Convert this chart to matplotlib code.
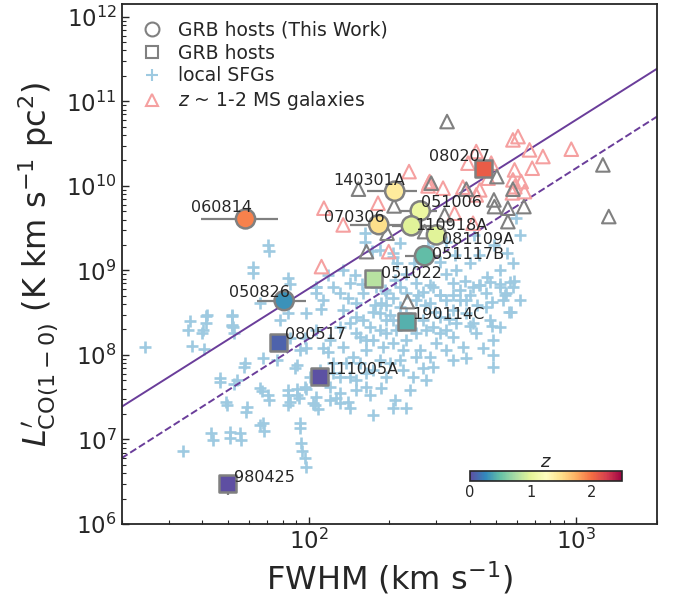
import numpy as np
import matplotlib
matplotlib.use("Agg")
import matplotlib.pyplot as plt
from matplotlib.lines import Line2D
from matplotlib.colors import Normalize
from matplotlib.cm import ScalarMappable

# GRB hosts, this work (circles)
tw_names = ['060814', '140301A', '070306', '050826', '051006',
            '110918A', '081109A', '051117B']
tw_fwhm = [58.1, 209.7, 182.7, 81.0, 261.0, 242.0, 300.0, 271.0]
tw_fwhm_lo = [39.5, 165.0, 142.5, 64.3, 220.0, 205.0, 285.0, 230.0]
tw_fwhm_hi = [76.9, 254.0, 238.0, 97.5, 302.0, 290.0, 315.0, 312.0]
tw_lco = [4.07e9, 8.65e9, 3.48e9, 4.39e8, 5.06e9, 3.37e9, 2.63e9, 1.49e9]
tw_z = [1.92, 1.416, 1.497, 0.296, 1.059, 0.984, 0.979, 0.481]

# GRB hosts from literature (squares)
lit_names = ['080207', '051022', '080517', '111005A', '190114C', '980425']
lit_fwhm = [448.0, 175.4, 77.2, 110.0, 232.0, 49.9]
lit_lco = [1.62e10, 8.09e8, 1.41e8, 5.53e7, 2.48e8, 3.05e6]
lit_lco_lo = [0, 0, 0, 0, 0, 0.85e6]
lit_z = [2.086, 0.806, 0.089, 0.013, 0.425, 0.0085]

# z ~ 1-2 main-sequence galaxies (log10 FWHM, log10 L')
ms_logfwhm = [2.375, 2.449, 2.057, 2.129, 2.259, 2.299, 2.048, 2.626, 2.595,
              2.682, 2.763, 2.782, 2.825, 2.875, 2.981, 2.835, 2.769, 2.763,
              2.794, 2.806, 2.452, 2.446, 2.502, 2.576, 2.639, 2.626, 2.670,
              2.545, 2.614, 2.761, 2.770]
ms_loglco = [10.169, 10.032, 9.736, 9.538, 9.795, 9.222, 9.045, 10.406, 10.269,
             10.269, 10.544, 10.583, 10.426, 10.347, 10.434, 10.209, 10.189,
             10.071, 10.051, 9.932, 10.051, 10.000, 9.973, 9.985, 9.953, 9.893,
             10.091, 9.677, 9.558, 9.917, 9.990]

# other high-z galaxies (grey triangles)
oth_logfwhm = [2.517, 2.703, 3.099, 3.121, 2.692, 2.694, 2.744, 2.804, 2.763,
               2.744, 2.458, 2.589, 2.508, 2.433, 2.186, 2.319, 2.216, 2.293,
               2.369]
oth_loglco = [10.761, 10.110, 10.248, 9.637, 9.834, 9.755, 9.736, 9.755, 9.961,
              9.577, 10.032, 9.961, 9.657, 9.459, 9.961, 9.763, 9.222, 9.440,
              8.631]

# local star-forming galaxies (log10 FWHM, log10 L')
sfg_logfwhm = [
    1.619, 1.606, 1.712, 1.718, 1.721, 1.818, 1.762, 1.669, 1.731, 1.830,
    1.880, 1.955, 1.948, 1.992, 1.967, 2.054, 2.073, 1.818, 1.849, 1.693,
    1.768, 1.924, 1.955, 1.930, 1.986, 2.029, 2.017, 2.079, 2.104, 2.116,
    2.147, 2.154, 2.116, 2.178, 2.228, 2.216, 2.272, 2.321, 2.377, 2.365,
    2.315, 2.390, 2.440, 2.241, 1.830, 1.818, 1.967, 1.637, 1.706, 1.743,
    1.973, 1.986, 1.924, 1.892, 1.930, 1.986, 2.029, 2.054, 2.129, 2.154,
    2.178, 2.129, 2.191, 2.228, 2.241, 2.266, 2.272, 2.290, 2.340, 2.402,
    2.465, 2.539, 2.614, 2.676, 2.751, 2.763, 2.726, 2.757, 2.676, 2.688,
    2.651, 2.688, 2.576, 2.589, 2.514, 2.477, 2.489, 2.465, 2.402, 2.415,
    2.353, 2.340, 2.303, 2.266, 2.241, 2.191, 2.166, 2.216, 2.154, 2.178,
    2.091, 2.054, 2.116, 2.079, 2.241, 2.290, 2.315, 2.365, 2.402, 2.427,
    2.514, 2.552, 2.589, 2.539, 2.452, 2.402, 2.340, 2.315, 2.290, 2.266,
    2.216, 2.203, 2.178, 2.116, 2.091, 2.589, 2.664, 2.738, 2.626, 2.713,
    2.489, 2.427, 2.154, 2.203,
    1.851, 1.793, 1.930, 2.028, 2.048, 1.551, 1.616, 1.713, 2.146, 2.198,
    2.211, 2.237, 2.316, 2.329, 2.362, 2.395, 2.512, 2.552, 2.584, 2.604,
    2.668, 2.715, 2.768, 2.735, 2.774, 2.788, 2.742, 2.762, 2.616, 2.512,
    2.447, 2.604, 2.539, 2.630, 2.683, 2.748, 2.683, 2.604, 2.525, 2.473,
    2.433, 2.407,
    2.284, 2.321, 2.452, 2.489, 2.564, 2.638, 2.713, 2.545, 2.489, 2.638,
    2.694, 2.247, 2.303,
    1.387, 1.557, 1.616, 1.713, 1.713, 1.603, 1.564, 1.610, 1.668, 1.721,
    1.760, 1.767, 1.695, 1.642, 1.708, 1.747, 1.531, 1.832, 1.825, 1.851,
    1.924, 1.924, 1.969, 1.976, 1.989, 1.963, 1.956, 1.989, 2.022, 2.035,
    1.849, 1.793, 1.923, 2.029, 2.073, 2.129, 2.172, 2.210, 2.265, 2.315,
    2.340,
    2.253, 2.315, 2.365, 2.427, 2.489, 2.564, 2.639, 2.713, 2.365, 2.440,
    2.539, 2.614, 2.328, 2.377, 2.278, 2.452, 2.539, 2.353, 2.290, 2.216,
    2.141, 2.091, 2.042, 2.004, 2.290, 2.178, 2.116, 2.079, 2.029, 1.992,
    2.465, 2.514, 2.664, 2.788, 2.688]
sfg_loglco = [
    8.473, 8.296, 8.473, 8.335, 8.256, 8.611, 7.901, 7.724, 7.704, 7.961,
    7.941, 7.882, 7.842, 8.079, 8.059, 8.079, 8.039, 7.605, 7.527, 7.448,
    7.389, 7.586, 7.527, 7.448, 7.625, 7.507, 7.428, 7.467, 7.487, 7.428,
    7.448, 7.369, 7.546, 7.586, 7.527, 7.625, 7.605, 7.467, 7.586, 7.369,
    7.369, 7.744, 7.704, 7.290, 7.191, 7.172, 7.191, 7.073, 7.093, 7.073,
    6.955, 6.777, 8.493, 8.414, 8.197, 8.197, 8.809, 8.651, 8.532, 8.375,
    8.256, 8.099, 8.217, 8.335, 8.513, 8.493, 8.611, 8.730, 8.809, 8.848,
    8.809, 8.848, 8.809, 8.868, 8.868, 8.809, 8.651, 8.513, 8.414, 8.177,
    8.079, 8.000, 8.099, 7.960, 8.059, 8.138, 8.256, 8.335, 8.256, 8.059,
    8.059, 7.941, 7.901, 7.941, 7.822, 7.901, 7.980, 8.059, 7.744, 7.704,
    7.901, 7.704, 7.744, 7.625, 8.177, 8.256, 8.138, 8.177, 7.980, 7.842,
    8.296, 8.375, 8.493, 8.532, 8.611, 8.651, 8.572, 8.414, 8.414, 8.296,
    8.177, 8.414, 8.611, 8.730, 8.809, 8.651, 8.730, 8.730, 8.256, 8.335,
    8.454, 8.414, 8.848, 8.730,
    9.231, 8.970, 8.837, 8.734, 8.544, 8.296, 8.372, 8.359, 8.674, 8.840,
    9.337, 9.231, 9.209, 9.089, 8.959, 9.089, 8.959, 9.006, 8.878, 9.089,
    8.923, 8.840, 8.878, 8.711, 9.625, 9.419, 9.209, 9.089, 9.419, 9.337,
    9.293, 8.711, 8.711, 8.587, 8.628, 8.504, 8.338, 8.338, 8.421, 8.504,
    8.587, 8.711,
    8.769, 8.887, 8.828, 8.710, 8.651, 8.828, 9.006, 9.183, 9.100, 9.183,
    9.302, 8.592, 8.473,
    8.090, 8.402, 8.464, 8.464, 8.340, 8.257, 8.111, 8.070, 7.676, 7.654,
    7.863, 7.323, 7.406, 6.990, 7.012, 6.990, 6.866, 7.095, 7.572, 7.467,
    7.530, 7.406, 7.136, 6.866, 6.679, 7.489, 7.593, 7.593, 7.406, 7.364,
    9.302, 9.045, 8.908, 8.808, 8.947, 9.006, 8.947, 9.440, 9.243, 9.163,
    9.322,
    8.809, 8.671, 8.730, 8.749, 8.710, 8.769, 8.828, 8.809, 8.493, 8.296,
    8.217, 8.375, 8.296, 8.375, 8.099, 7.980, 7.941, 7.822, 7.744, 7.783,
    7.901, 7.783, 7.822, 7.744, 8.592, 8.454, 8.335, 8.177, 8.296, 8.493,
    7.862, 8.651, 8.572, 8.651, 7.862]

# L' ~ FWHM^2 relations (read at the plot edges)
line_fwhm = [20, 2000]
line_solid = [2.43e7, 2.43e11]
line_dashed = [6.0e6, 6.6e10]

# label offsets in pixels (dx, dy, ha)
tw_off = [(6, 7, 'right'), (10, 6, 'right'), (6, 3, 'right'), (6, 4, 'right'),
          (1, 4, 'left'), (4, -4, 'left'), (6, -9, 'left'), (7, -3, 'left')]
lit_off = [(7, 7, 'right'), (7, 0, 'left'), (6, 3, 'left'), (7, 3, 'left'),
           (6, 3, 'left'), (6, 1, 'left')]

dark = '#262626'
grey = '#808080'
sfg_col = '#9ecae1'
ms_col = '#f5a0a0'
purple = '#6a3d9a'
cmap = plt.get_cmap('Spectral_r')
norm = Normalize(0, 2.5)

fig = plt.figure(figsize=(6.75, 6), dpi=100)
ax = fig.add_axes([0.18, 0.1267, 0.7933, 0.8667])

ax.scatter(10**np.array(sfg_logfwhm), 10**np.array(sfg_loglco), marker='+',
           s=85, color=sfg_col, linewidths=1.9, zorder=1)
ax.plot(line_fwhm, line_solid, color=purple, lw=1.4, zorder=2)
ax.plot(line_fwhm, line_dashed, color=purple, lw=1.4, ls='--', zorder=2)
ax.scatter(10**np.array(ms_logfwhm), 10**np.array(ms_loglco), marker='^',
           s=95, facecolors='none', edgecolors=ms_col, linewidths=1.5, zorder=3)
ax.scatter(10**np.array(oth_logfwhm), 10**np.array(oth_loglco), marker='^',
           s=95, facecolors='none', edgecolors=grey, linewidths=1.5, zorder=3)

tw_fwhm = np.array(tw_fwhm)
xerr = [tw_fwhm - np.array(tw_fwhm_lo), np.array(tw_fwhm_hi) - tw_fwhm]
ax.errorbar(tw_fwhm, tw_lco, xerr=xerr, fmt='none', ecolor=grey, elinewidth=1.6,
            capsize=0, zorder=4)
ax.errorbar(lit_fwhm, lit_lco, yerr=[lit_lco_lo, [0] * len(lit_lco)], fmt='none',
            ecolor=grey, elinewidth=1.6, capsize=0, zorder=4)
ax.scatter(tw_fwhm, tw_lco, c=tw_z, cmap=cmap, norm=norm, marker='o', s=190,
           edgecolors=grey, linewidths=1.8, zorder=5)
ax.scatter(lit_fwhm, lit_lco, c=lit_z, cmap=cmap, norm=norm, marker='s', s=150,
           edgecolors=grey, linewidths=1.8, zorder=5)

for name, x, y, (dx, dy, ha) in zip(tw_names, tw_fwhm, tw_lco, tw_off):
    ax.annotate(name, (x, y), xytext=(dx, dy), textcoords='offset pixels',
                ha=ha, va='baseline', fontsize=11.5, color=dark, zorder=6)
for name, x, y, (dx, dy, ha) in zip(lit_names, lit_fwhm, lit_lco, lit_off):
    ax.annotate(name, (x, y), xytext=(dx, dy), textcoords='offset pixels',
                ha=ha, va='baseline', fontsize=11.5, color=dark, zorder=6)

ax.set_xscale('log')
ax.set_yscale('log')
ax.set_xlim(20, 2000)
ax.set_ylim(1e6, 1.42e12)
ax.set_xlabel(r'FWHM (km s$^{-1}$)', fontsize=23, color=dark)
ax.set_ylabel(r"$L^{\prime}_{\rm CO(1-0)}$ (K km s$^{-1}$ pc$^2$)",
              fontsize=23, color=dark)
ax.tick_params(which='both', direction='in', colors=dark, labelsize=16.5)
ax.tick_params(which='major', length=5, width=1)
ax.tick_params(which='minor', length=3, width=0.8)
for sp in ax.spines.values():
    sp.set_color(dark)
    sp.set_linewidth(1.3)

handles = [
    Line2D([], [], ls='', marker='o', mfc='none', mec=grey, mew=1.5, ms=10),
    Line2D([], [], ls='', marker='s', mfc='none', mec=grey, mew=1.5, ms=9),
    Line2D([], [], ls='', marker='+', color=sfg_col, mew=1.5, ms=9),
    Line2D([], [], ls='', marker='^', mfc='none', mec=ms_col, mew=1.5, ms=9),
]
labels = ['GRB hosts (This Work)', 'GRB hosts', 'local SFGs',
          r'$z$ ~ 1-2 MS galaxies']
leg = ax.legend(handles, labels, loc='upper left', frameon=False, fontsize=13.5,
                handlelength=1.5, handletextpad=0.6, labelspacing=0.2,
                borderaxespad=0.5)
for t in leg.get_texts():
    t.set_color(dark)

cax = fig.add_axes([0.6963, 0.1988, 0.2256, 0.0167])
sm = ScalarMappable(norm=norm, cmap=cmap)
cb = fig.colorbar(sm, cax=cax, orientation='horizontal', ticks=[0, 1, 2])
cb.ax.tick_params(length=0, labelsize=10.5, colors=dark, pad=3)
cb.outline.set_edgecolor(dark)
cb.outline.set_linewidth(1.2)
cax.xaxis.set_label_position('top')
cax.set_xlabel('$z$', fontsize=13, color=dark, labelpad=3)

fig.savefig('out.png', dpi=100)
